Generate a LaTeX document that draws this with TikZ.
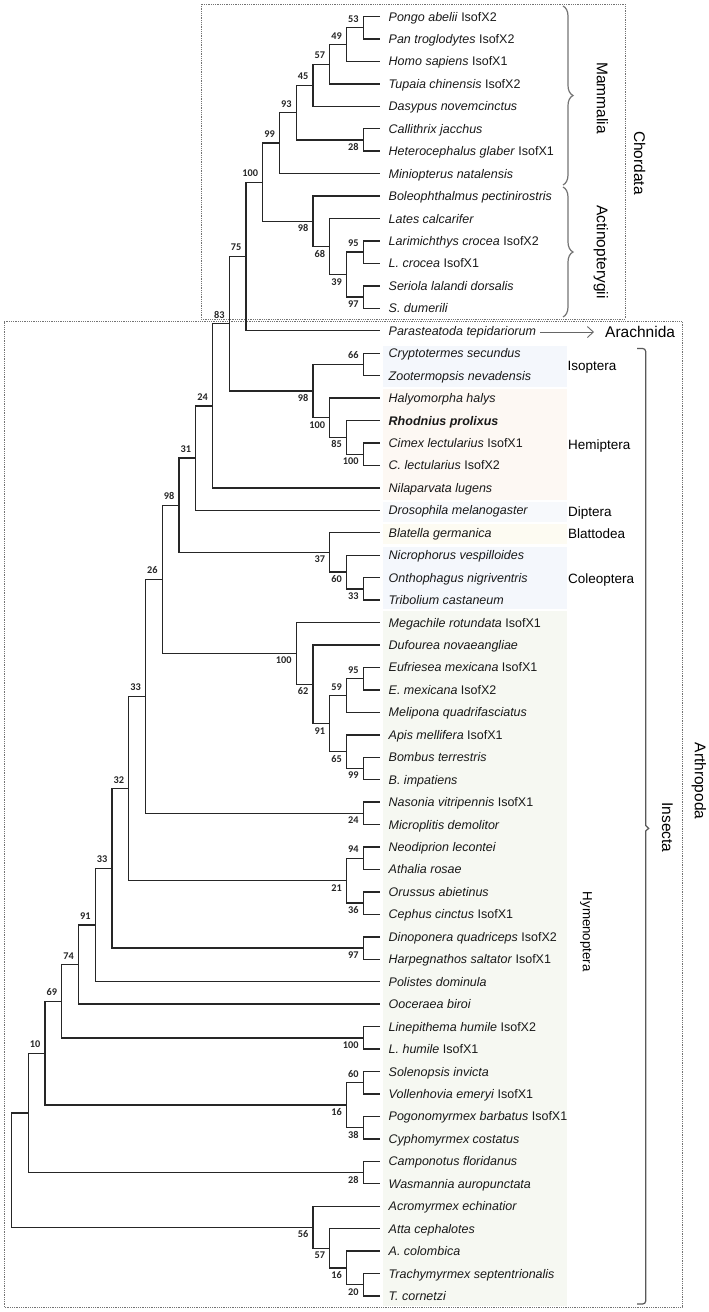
\documentclass[tikz,border=0pt]{standalone}
\usepackage{fontspec}
\setmainfont{Liberation Sans}
\newfontfamily\bsfont{Carlito}
\usetikzlibrary{calc,decorations.pathreplacing,arrows.meta}
\definecolor{isocol}{HTML}{F4F7FC}
\definecolor{hemcol}{HTML}{FDF8F3}
\definecolor{dipcol}{HTML}{F7F9FC}
\definecolor{blacol}{HTML}{FDFBF2}
\definecolor{colcol}{HTML}{F4F7FC}
\definecolor{hymcol}{HTML}{F6F8F2}
\newcommand{\spn}[1]{\textit{#1}}
\newcommand{\mk}[6]{%
  \path let \p1=($(#3)!0.5!(#4)$) in ({380-16.75*#2},\y1) coordinate (#1);
  \draw[br] (#1) |- (#3);
  \draw[br] (#1) |- (#4);
  \node[bsl,#6,xshift=-4.5pt] (lb#1) at (#1) {#5};
}
\newcommand{\mkn}[4]{%
  \path let \p1=($(#3)!0.5!(#4)$) in ({380-16.75*#2},\y1) coordinate (#1);
  \draw[br] (#1) |- (#3);
  \draw[br] (#1) |- (#4);
}
\begin{document}
\begin{tikzpicture}[x=1pt,y=-1pt,
  br/.style={line width=1.4pt, draw=black!85},
  bsl/.style={font=\bsfont\bfseries\fontsize{10.3}{10.3}\selectfont, inner sep=0pt, text=black!85},
  lblup/.style={anchor=base east, yshift=5.5pt},
  lbldn/.style={anchor=base east, yshift=-10.5pt},
  leaf/.style={font=\fontsize{12.5}{14}\selectfont, anchor=base west, inner sep=0pt, text=black!90},
  grp/.style={font=\fontsize{15.5}{18}\selectfont, inner sep=0pt},
  ord/.style={font=\fontsize{13.5}{16}\selectfont, anchor=base west, inner sep=0pt},
  dotbox/.style={draw=black!55, line width=0.9pt, dash pattern=on 0.9pt off 0.9pt},
  brc/.style={draw=black!55, line width=1.2pt, decorate, decoration={brace, amplitude=10pt}},
  brk/.style={draw=black!65, line width=1.2pt},
  arr/.style={draw=black!60, line width=0.9pt, -{Straight Barb[length=6pt,width=11pt]}}
]
\useasboundingbox (0,0) rectangle (709,1312);
% colour panels
\fill[isocol] (383,346) rectangle (566.7,387);
\fill[hemcol] (383,389) rectangle (566.7,499.5);
\fill[dipcol] (383,501.5) rectangle (566.7,521.5);
\fill[blacol] (383,523.5) rectangle (566.7,544.3);
\fill[colcol] (383,546.5) rectangle (566.7,608.5);
\fill[hymcol] (383,610.7) rectangle (566.7,1306);
% boxes
\draw[dotbox] (201,4) rectangle (625,319);
\draw[dotbox] (4,321.5) rectangle (682,1307);
% leaves
\foreach \i/\lt in {
1/{\spn{Pongo abelii} IsofX2},
2/{\spn{Pan troglodytes} IsofX2},
3/{\spn{Homo sapiens} IsofX1},
4/{\spn{Tupaia chinensis} IsofX2},
5/{\spn{Dasypus novemcinctus}},
6/{\spn{Callithrix jacchus}},
7/{\spn{Heterocephalus glaber} IsofX1},
8/{\spn{Miniopterus natalensis}},
9/{\spn{Boleophthalmus pectinirostris}},
10/{\spn{Lates calcarifer}},
11/{\spn{Larimichthys crocea} IsofX2},
12/{\spn{L. crocea} IsofX1},
13/{\spn{Seriola lalandi dorsalis}},
14/{\spn{S. dumerili}},
15/{\spn{Parasteatoda tepidariorum}},
16/{\spn{Cryptotermes secundus}},
17/{\spn{Zootermopsis nevadensis}},
18/{\spn{Halyomorpha halys}},
19/{\textbf{\spn{Rhodnius prolixus}}},
20/{\spn{Cimex lectularius} IsofX1},
21/{\spn{C. lectularius} IsofX2},
22/{\spn{Nilaparvata lugens}},
23/{\spn{Drosophila melanogaster}},
24/{\spn{Blatella germanica}},
25/{\spn{Nicrophorus vespilloides}},
26/{\spn{Onthophagus nigriventris}},
27/{\spn{Tribolium castaneum}},
28/{\spn{Megachile rotundata} IsofX1},
29/{\spn{Dufourea novaeangliae}},
30/{\spn{Eufriesea mexicana} IsofX1},
31/{\spn{E. mexicana} IsofX2},
32/{\spn{Melipona quadrifasciatus}},
33/{\spn{Apis mellifera} IsofX1},
34/{\spn{Bombus terrestris}},
35/{\spn{B. impatiens}},
36/{\spn{Nasonia vitripennis} IsofX1},
37/{\spn{Microplitis demolitor}},
38/{\spn{Neodiprion lecontei}},
39/{\spn{Athalia rosae}},
40/{\spn{Orussus abietinus}},
41/{\spn{Cephus cinctus} IsofX1},
42/{\spn{Dinoponera quadriceps} IsofX2},
43/{\spn{Harpegnathos saltator} IsofX1},
44/{\spn{Polistes dominula}},
45/{\spn{Ooceraea biroi}},
46/{\spn{Linepithema humile} IsofX2},
47/{\spn{L. humile} IsofX1},
48/{\spn{Solenopsis invicta}},
49/{\spn{Vollenhovia emeryi} IsofX1},
50/{\spn{Pogonomyrmex barbatus} IsofX1},
51/{\spn{Cyphomyrmex costatus}},
52/{\spn{Camponotus floridanus}},
53/{\spn{Wasmannia auropunctata}},
54/{\spn{Acromyrmex echinatior}},
55/{\spn{Atta cephalotes}},
56/{\spn{A. colombica}},
57/{\spn{Trachymyrmex septentrionalis}},
58/{\spn{T. cornetzi}}}{
  \pgfmathsetmacro\yy{16.5+(\i-1)*22.447}
  \coordinate (t\i) at (380,\yy);
  \node[leaf] (L\i) at (388.5,{\yy+4.5}) {\lt};
}
% Chordata
\mk{a53}{1}{t1}{t2}{53}{lblup}
\mk{a49}{2}{a53}{t3}{49}{lblup}
\mk{a57}{3}{a49}{t4}{57}{lblup}
\mk{a45}{4}{a57}{t5}{45}{lblup}
\mk{a28}{1}{t6}{t7}{28}{lbldn}
\mk{a93}{5}{a45}{a28}{93}{lblup}
\mk{a99}{6}{a93}{t8}{99}{lblup}
\mk{a95}{1}{t11}{t12}{95}{lblup}
\mk{a97}{1}{t13}{t14}{97}{lbldn}
\mk{a39}{2}{a95}{a97}{39}{lbldn}
\mk{a68}{3}{t10}{a39}{68}{lbldn}
\mk{a98}{4}{t9}{a68}{98}{lbldn}
\mk{a100}{7}{a99}{a98}{100}{lblup}
\mk{a75}{8}{a100}{t15}{75}{lblup}
% Isoptera / Hemiptera
\mk{b66}{1}{t16}{t17}{66}{lblup}
\mk{b100c}{1}{t20}{t21}{100}{lbldn}
\mk{b85}{2}{t19}{b100c}{85}{lbldn}
\mk{b100h}{3}{t18}{b85}{100}{lbldn}
\mk{b98}{4}{b66}{b100h}{98}{lbldn}
\mk{b83}{9}{a75}{b98}{83}{lblup}
\mk{b24}{10}{b83}{t22}{24}{lblup}
\mk{b31}{11}{b24}{t23}{31}{lblup}
% Blattodea / Coleoptera
\mk{c33}{1}{t26}{t27}{33}{lbldn}
\mk{c60}{2}{t25}{c33}{60}{lbldn}
\mk{c37}{3}{t24}{c60}{37}{lbldn}
\mk{b98b}{12}{b31}{c37}{98}{lblup}
% Hymenoptera
\mk{d95}{1}{t30}{t31}{95}{lblup}
\mk{d59}{2}{d95}{t32}{59}{lblup}
\mk{d99}{1}{t34}{t35}{99}{lbldn}
\mk{d65}{2}{t33}{d99}{65}{lbldn}
\mk{d91}{3}{d59}{d65}{91}{lbldn}
\mk{d62}{4}{t29}{d91}{62}{lbldn}
\mk{d100}{5}{t28}{d62}{100}{lbldn}
\mk{e26}{13}{b98b}{d100}{26}{lblup}
\mk{e24}{1}{t36}{t37}{24}{lbldn}
\mk{e33}{14}{e26}{e24}{33}{lblup}
\mk{f94}{1}{t38}{t39}{94}{lblup}
\mk{f36}{1}{t40}{t41}{36}{lbldn}
\mk{f21}{2}{f94}{f36}{21}{lbldn}
\mk{e32}{15}{e33}{f21}{32}{lblup}
\mk{f97}{1}{t42}{t43}{97}{lbldn}
\mk{e33b}{16}{e32}{f97}{33}{lblup}
\mk{e91}{17}{e33b}{t44}{91}{lblup}
\mk{e74}{18}{e91}{t45}{74}{lblup}
\mk{g100}{1}{t46}{t47}{100}{lbldn}
\mk{e69}{19}{e74}{g100}{69}{lblup}
\mk{g60}{1}{t48}{t49}{60}{lblup}
\mk{g38}{1}{t50}{t51}{38}{lbldn}
\mk{g16}{2}{g60}{g38}{16}{lbldn}
\mk{e10}{20}{e69}{g16}{10}{lblup}
\mk{g28}{1}{t52}{t53}{28}{lbldn}
\mkn{e21}{21}{e10}{g28}
\mk{h20}{1}{t57}{t58}{20}{lbldn}
\mk{h16}{2}{t56}{h20}{16}{lbldn}
\mk{h57}{3}{t55}{h16}{57}{lbldn}
\mk{h56}{4}{t54}{h57}{56}{lbldn}
\mkn{root}{22}{e21}{h56}
% braces
\draw[brc] (563,6) -- (563,185);
\draw[brc] (563,187) -- (563,317);
\draw[brk] (637,348.5) -- (642.7,348.5) to[out=0,in=90] (645.7,351.5) -- (645.7,825.5) -- (648.7,828.3) -- (645.7,831) -- (645.7,1301) to[out=-90,in=0] (642.7,1304) -- (637,1304);
% group labels
\node[grp,rotate=-90] (mam) at (602.5,98) {Mammalia};
\node[grp,rotate=-90] (act) at (601,252) {Actinopterygii};
\node[grp,rotate=-90] (cho) at (639.7,163) {Chordata};
\node[grp,rotate=-90] (ins) at (667.3,827.5) {Insecta};
\node[grp,rotate=-90] (art) at (698.8,781) {Arthropoda};
\node[grp,anchor=west] (arach) at (605,331.5) {Arachnida};
\coordinate (aS) at ([xshift=4pt]L15.east);
\draw[arr, shorten >=11pt] (aS) -- (aS -| arach.west);
\node[ord] (iso) at (567.5,370.5) {Isoptera};
\node[ord] (hem) at (568,449.5) {Hemiptera};
\node[ord] (dip) at (568,516) {Diptera};
\node[ord] (bla) at (568,538) {Blattodea};
\node[ord] (col) at (568,583) {Coleoptera};
\node[font=\fontsize{13.3}{16}\selectfont, inner sep=0pt, rotate=-90] (hym) at (586,931.7) {Hymenoptera};
\end{tikzpicture}
\end{document}
